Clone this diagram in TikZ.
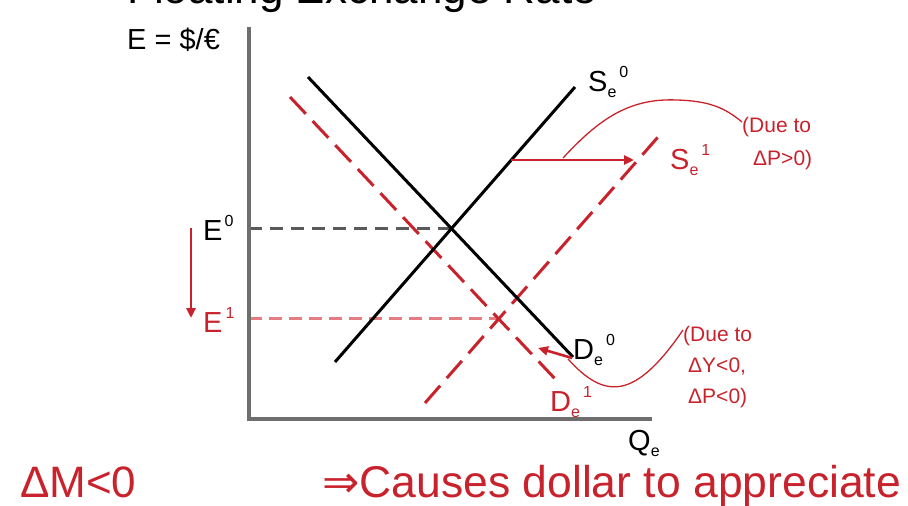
\documentclass[tikz,border=0pt]{standalone}
\usepackage{fontspec}
\setmainfont{Liberation Sans}
\newfontfamily\symfont{DejaVu Sans}
\usetikzlibrary{arrows.meta}
\definecolor{axisgray}{RGB}{110,110,110}
\definecolor{dashgray}{RGB}{90,90,90}
\definecolor{myred}{RGB}{200,35,45}
\definecolor{lightred}{RGB}{228,125,130}
\newcommand{\supb}[1]{\raisebox{0.45em}{\fontsize{16}{16}\selectfont #1}}
\newcommand{\subb}[1]{\raisebox{-0.22em}{\fontsize{16}{16}\selectfont #1}\kern3pt}
\begin{document}
\begin{tikzpicture}[x=1pt,y=-1pt,
  lab/.style={anchor=base west,inner sep=0pt,font=\fontsize{29}{30}\selectfont},
  note/.style={anchor=base west,inner sep=0pt,text=myred,font=\fontsize{21}{22}\selectfont},
  big/.style={anchor=base west,inner sep=0pt,font=\fontsize{44}{46}\selectfont},
  axisline/.style={draw=axisgray,line width=4pt},
  curve/.style={draw=black,line width=3pt},
  shifted/.style={draw=myred,line width=3pt,dash pattern=on 23pt off 10pt},
  eqdash/.style={draw=dashgray,line width=3pt,dash pattern=on 13pt off 8pt},
  eqdashred/.style={draw=lightred,line width=3pt,dash pattern=on 13pt off 7pt},
  shiftarrow/.style={draw=myred,line width=2.6pt,-{Triangle[length=10pt,width=9pt]}},
  callout/.style={draw=myred,line width=1.3pt}]
\useasboundingbox (0,0) rectangle (908,506);
% title (cut off at top)
\node[anchor=base west,inner sep=0pt,font=\fontsize{44}{46}\selectfont] (title) at (127,3) {Floating Exchange Rate};
% coordinates
\coordinate (origin) at (249,419);
\coordinate (ytop) at (249,27);
\coordinate (xend) at (652,419);
\coordinate (d0a) at (308,77);
\coordinate (d0b) at (573,357);
\coordinate (s0a) at (335,362);
\coordinate (s0b) at (575,87);
\coordinate (d1a) at (290,97);
\coordinate (d1b) at (558,382);
\coordinate (s1a) at (425,403);
\coordinate (s1b) at (658,137);
\coordinate (eq0) at (450,228);
\coordinate (eq0y) at (249,228);
\coordinate (eq1) at (497,318);
\coordinate (eq1y) at (249,318);
\coordinate (arrtop) at (191,228);
\coordinate (arrbot) at (191,318);
\coordinate (sfrom) at (511,160);
\coordinate (sto) at (634,160);
\coordinate (uc0) at (563,158);
\coordinate (ucpeak) at (677,100);
\coordinate (uc1) at (742,122);
\coordinate (dfrom) at (572,358);
\coordinate (dto) at (538,348);
\coordinate (lc0) at (568,359);
\coordinate (lc1) at (683,330);
% dashed guide lines
\draw[eqdash] (eq0y) -- (eq0);
\draw[eqdashred] (eq1y) -- (eq1);
% shifted curves
\draw[shifted] (d1a) -- (d1b);
\draw[shifted] (s1a) -- (s1b);
% original curves
\draw[curve] (d0a) -- (d0b);
\draw[curve] (s0a) -- (s0b);
% axes
\draw[axisline,line join=miter] (ytop) -- (origin) -- (xend);
% arrows
\draw[shiftarrow] (arrtop) -- (arrbot);
\draw[shiftarrow] (sfrom) -- (sto);
\draw[shiftarrow] (dfrom) -- (dto);
% callout curves
\draw[callout] (uc0) .. controls (600,118) and (630,98) .. (ucpeak) .. controls (710,101) and (725,108) .. (uc1);
\draw[callout] (lc0) .. controls (605,400) and (635,400) .. (lc1);
% labels
\node[lab] (ylab) at (127,49) {E = \$/€};
\node[lab] (e0lab) at (203,240) {E\kern2pt\supb{0}};
\node[lab,text=myred] (e1lab) at (203,332) {E\kern3pt\supb{1}};
\node[lab] (s0lab) at (588,91) {S\subb{e}\supb{0}};
\node[lab,text=myred] (s1lab) at (670,169) {S\subb{e}\supb{1}};
\node[lab] (d0lab) at (573,359) {D\subb{e}\supb{0}};
\node[lab,text=myred] (d1lab) at (550,411) {D\subb{e}\supb{1}};
\node[lab] (qlab) at (628,450) {Q\subb{e}};
% notes
\node[note] (n1a) at (742,132) {(Due to};
\node[note] (n1b) at (753,165) {ΔP>0)};
\node[note] (n2a) at (683,341) {(Due to};
\node[note] (n2b) at (688,372) {ΔY<0,};
\node[note] (n2c) at (688,403) {ΔP<0)};
% bottom text
\node[big,text=myred] (dm) at (20,497) {ΔM<0};
\node[big,text=myred,font=\fontsize{44.5}{46}\selectfont] (cause) at (322,497) {{\symfont ⇒}Causes dollar to appreciate};
\end{tikzpicture}
\end{document}
